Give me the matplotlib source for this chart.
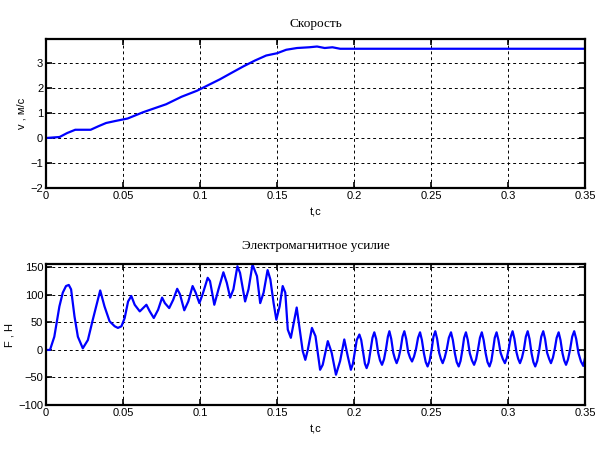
import matplotlib
matplotlib.use('Agg')
import matplotlib.pyplot as plt

# Скорость v(t)
t_v = [0, 0.0088, 0.0138, 0.019, 0.029, 0.034, 0.039, 0.045, 0.053, 0.063, 0.07,
       0.078, 0.088, 0.098, 0.1055, 0.113, 0.1206, 0.128, 0.1357, 0.143, 0.15,
       0.156, 0.163, 0.171, 0.176, 0.181, 0.186, 0.191, 0.35]
v = [0, 0.04, 0.2, 0.33, 0.33, 0.47, 0.6, 0.68, 0.78, 1.03, 1.18,
     1.35, 1.65, 1.89, 2.12, 2.35, 2.61, 2.86, 3.1, 3.3, 3.39,
     3.53, 3.6, 3.63, 3.66, 3.6, 3.63, 3.57, 3.57]

# Электромагнитное усилие F(t): пуск (до 0.196 с)
t_f_start = [0, 0.0026, 0.0054, 0.0087, 0.0109, 0.013, 0.0148, 0.0163, 0.0185, 0.0207,
             0.0239, 0.0272, 0.0304, 0.0326, 0.0352, 0.038, 0.0413, 0.0446, 0.0467, 0.049,
             0.0511, 0.0533, 0.0554, 0.0576, 0.0609, 0.063, 0.0652, 0.0674, 0.07, 0.0728,
             0.0754, 0.0772, 0.08, 0.0826, 0.0852, 0.087, 0.0898, 0.0924, 0.0952, 0.0972,
             0.0996, 0.1017, 0.105, 0.1065, 0.1093, 0.112, 0.1152, 0.1174, 0.1196, 0.1217,
             0.1243, 0.126, 0.1293, 0.1315, 0.1341, 0.137, 0.1391, 0.1413, 0.1439, 0.1457,
             0.1478, 0.1496, 0.1517, 0.1537, 0.1554, 0.157, 0.159, 0.1628, 0.1667, 0.1684,
             0.17, 0.1727, 0.175, 0.178, 0.1797, 0.183, 0.1855, 0.1883, 0.191, 0.1937,
             0.196]
f_start = [0, 0, 24, 79, 104, 116, 118, 110, 61, 24,
           3, 18, 55, 79, 108, 79, 52, 43, 40, 43,
           58, 88, 98, 82, 70, 76, 82, 70, 58, 73,
           95, 85, 76, 91, 111, 101, 72, 88, 116, 104,
           85, 101, 131, 125, 82, 110, 141, 122, 95, 110,
           152, 140, 88, 110, 155, 134, 85, 104, 145, 128,
           85, 55, 79, 116, 104, 37, 22, 77, -2, -18,
           0, 40, 25, -36, -27, 16, -5, -45, -20, 19,
           -12]

# установившийся режим (0.198 ... 0.35 с)
t_f_steady = [0.198, 0.1993, 0.2006, 0.2018, 0.2035, 0.2047, 0.206, 0.2071,
              0.2082, 0.2095, 0.2108, 0.212, 0.2132, 0.2144, 0.2157, 0.2169,
              0.2182, 0.2195, 0.2208, 0.222, 0.223, 0.2242, 0.2255, 0.2266,
              0.2277, 0.229, 0.2303, 0.2315, 0.2327, 0.2339, 0.2352, 0.2364,
              0.2377, 0.239, 0.2403, 0.2416, 0.2429, 0.2441, 0.2454, 0.2466,
              0.2478, 0.2491, 0.2504, 0.2516, 0.2528, 0.254, 0.2553, 0.2564,
              0.2576, 0.2589, 0.2603, 0.2616, 0.263, 0.2642, 0.2655, 0.2667,
              0.268, 0.2692, 0.2704, 0.2715, 0.2727, 0.2739, 0.2752, 0.2766,
              0.278, 0.2793, 0.2806, 0.2818, 0.283, 0.2842, 0.2855, 0.2867,
              0.288, 0.2892, 0.2903, 0.2914, 0.2926, 0.2938, 0.2952, 0.2966,
              0.298, 0.2993, 0.3005, 0.3018, 0.303, 0.3042, 0.3055, 0.3066,
              0.3078, 0.3091, 0.3104, 0.3116, 0.3128, 0.314, 0.3153, 0.3165,
              0.3177, 0.319, 0.3203, 0.3216, 0.3229, 0.3241, 0.3254, 0.3267,
              0.3279, 0.3292, 0.3304, 0.3316, 0.3329, 0.3341, 0.3354, 0.3365,
              0.3377, 0.339, 0.3404, 0.3417, 0.343, 0.3443, 0.3458, 0.3474,
              0.3489, 0.35]
f_steady = [-36, -25, -3, 18, 28, 18, -6, -25,
            -33, -23, 0, 22, 32, 20, -5, -19,
            -27, -17, 2, 24, 34, 20, -5, -16,
            -24, -14, 2, 24, 34, 20, -4, -14,
            -21, -12, 2, 22, 32, 18, -6, -22,
            -30, -20, 0, 24, 34, 20, -5, -16,
            -24, -14, 2, 22, 32, 18, -6, -22,
            -30, -20, 0, 22, 32, 18, -6, -19,
            -27, -17, 2, 22, 32, 18, -6, -22,
            -30, -20, 0, 22, 32, 18, -5, -16,
            -24, -14, 2, 24, 34, 20, -4, -16,
            -24, -14, 2, 24, 34, 20, -6, -22,
            -30, -20, 0, 24, 34, 20, -5, -16,
            -24, -14, 2, 22, 32, 18, -6, -19,
            -27, -17, 2, 24, 34, 20, -6, -21,
            -29, -15]

t_f = t_f_start + t_f_steady
f = f_start + f_steady

plt.rcParams['font.family'] = 'Liberation Sans'
plt.rcParams['font.size'] = 8

fig = plt.figure(figsize=(6.06, 4.59), dpi=100)
ax1 = fig.add_axes([0.0759, 0.5904, 0.8894, 0.3246])
ax2 = fig.add_axes([0.0759, 0.1176, 0.8894, 0.3072])

grid_style = dict(color='black', linestyle=(0, (3, 3)), linewidth=0.7)


def style(ax):
    for s in ax.spines.values():
        s.set_linewidth(1.6)
    ax.tick_params(direction='in', top=True, right=True, length=4, width=1.2, pad=2)
    ax.grid(True, **grid_style)
    ax.set_xlim(0, 0.35)
    ax.set_xticks([0, 0.05, 0.1, 0.15, 0.2, 0.25, 0.3, 0.35])
    ax.set_xticklabels(['0', '0.05', '0.1', '0.15', '0.2', '0.25', '0.3', '0.35'])
    ax.set_xlabel('t,c', labelpad=5)


ax1.plot(t_v, v, color='#0000ff', linewidth=1.6)
style(ax1)
ax1.set_ylim(-2, 3.96)
ax1.set_yticks([-2, -1, 0, 1, 2, 3])
ax1.set_ylabel('v , м/с', labelpad=3)
ax1.set_title('Скорость', fontfamily='Liberation Serif', fontsize=9.5, pad=9)

ax2.plot(t_f, f, color='#0000ff', linewidth=1.6)
style(ax2)
ax2.set_ylim(-100, 156)
ax2.set_yticks([-100, -50, 0, 50, 100, 150])
ax2.set_ylabel('F , Н', labelpad=3)
ax2.set_title('Электромагнитное усилие', fontfamily='Liberation Serif', fontsize=9.5, pad=11)

fig.savefig('out.png', dpi=100)
